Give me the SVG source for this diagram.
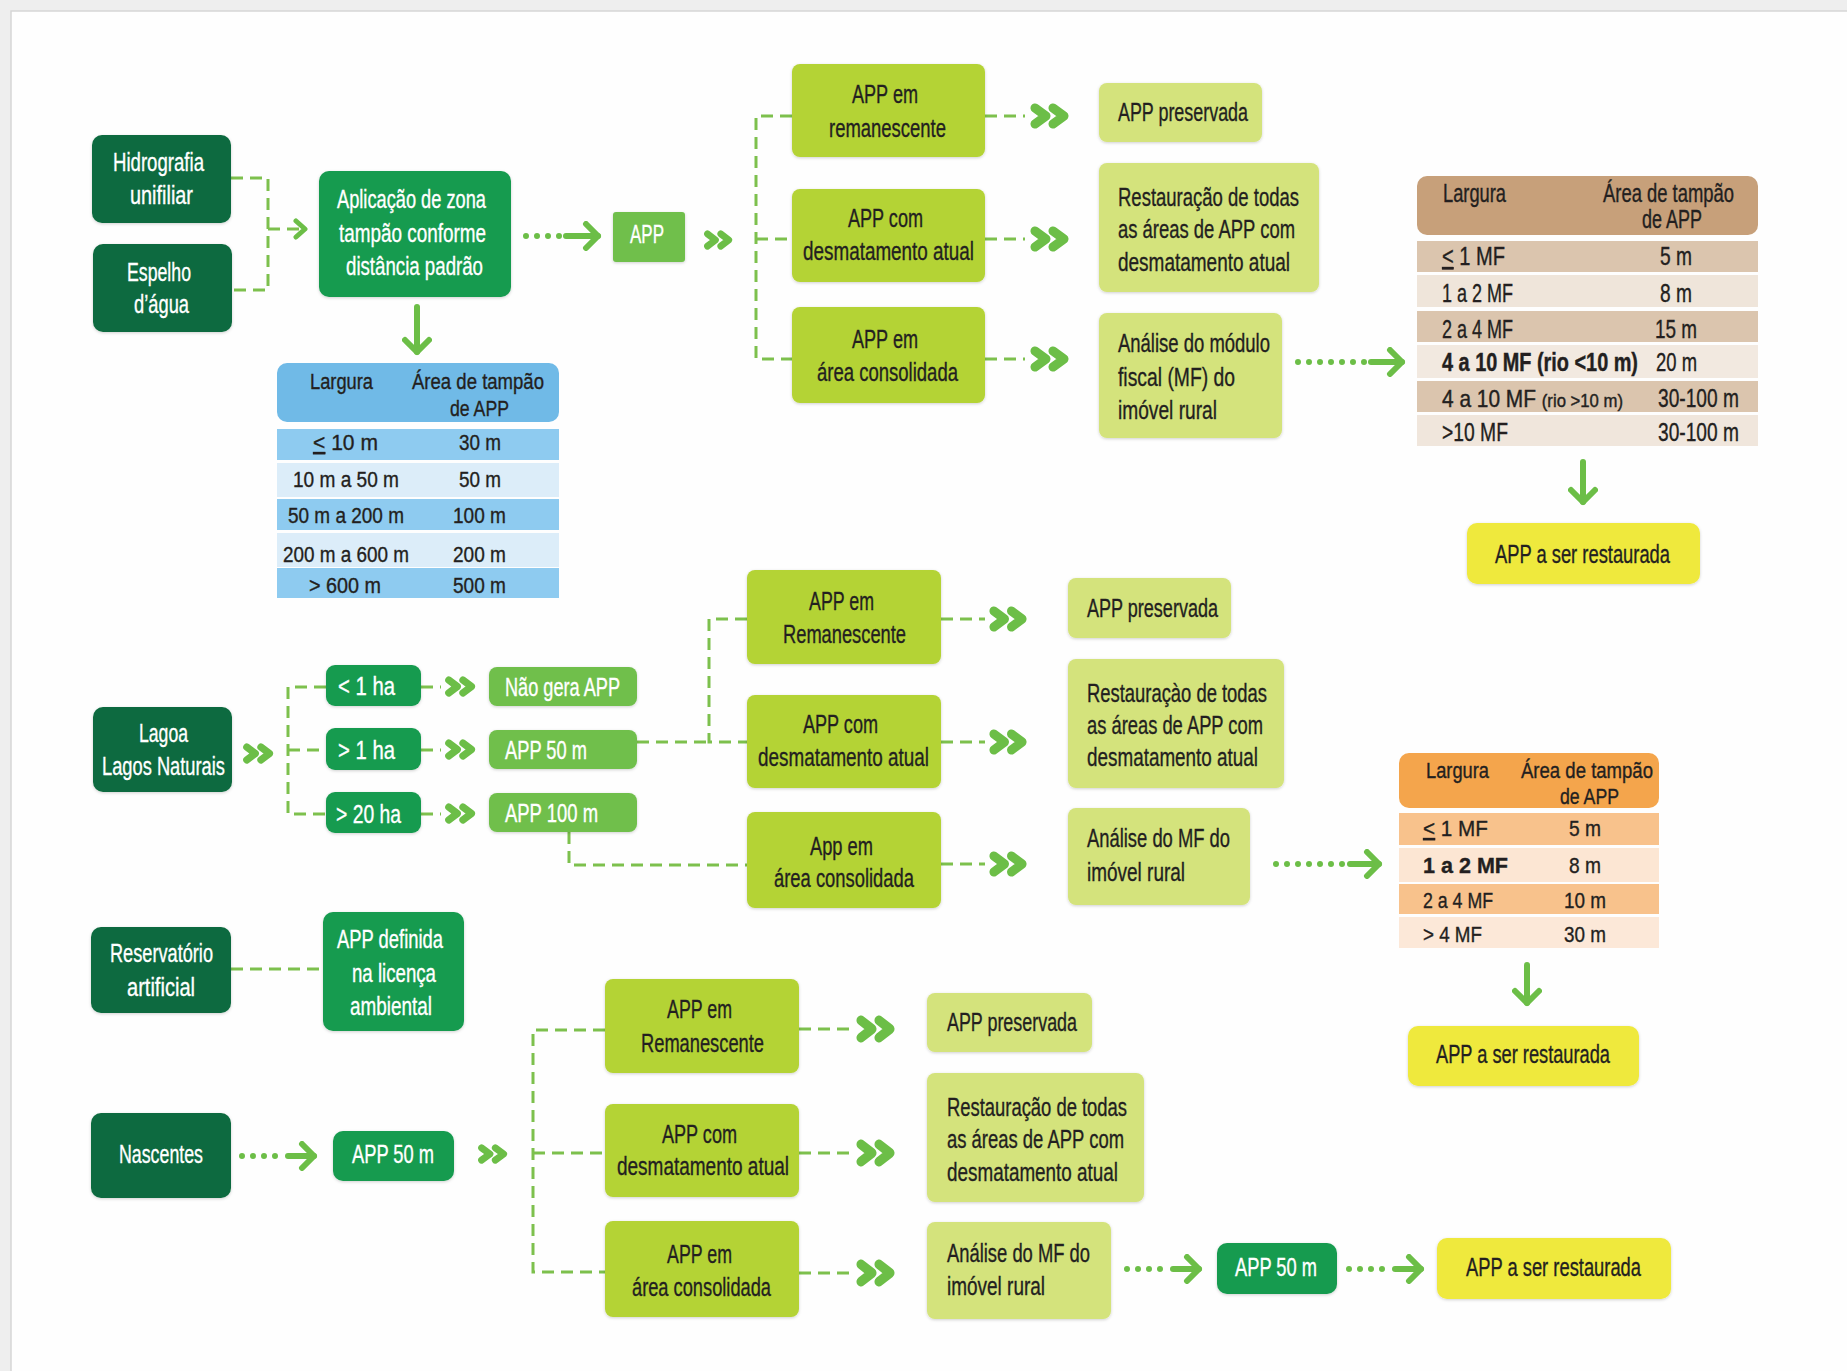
<svg xmlns="http://www.w3.org/2000/svg" xmlns:xlink="http://www.w3.org/1999/xlink" width="1847" height="1371" viewBox="0 0 1847 1371">
<style>
text{font-family:"Liberation Sans",Arial,sans-serif;font-size:26px;fill:#231f20;stroke:#231f20;stroke-width:0.35}
.w{fill:#fff;stroke:#fff}
.tb{font-size:25px}
.ts{font-size:22px}
.b{font-weight:bold}
.dk{fill:#0f6b3f}
.md{fill:#169b4f}
.lg{fill:#70bf4c}
.yg{fill:#b4d335}
.pg{fill:#d4e37b}
.yl{fill:#efe93c}
.dash{fill:none;stroke:#7dc04d;stroke-width:3;stroke-dasharray:12 7}
.dots{fill:none;stroke:#6cbe47;stroke-width:6;stroke-linecap:round;stroke-dasharray:0 11}
.shaft{fill:none;stroke:#6cbe47;stroke-width:6;stroke-linecap:round}
.box{filter:url(#sh)}
</style>
<defs>
<filter id="sh" x="-10%" y="-10%" width="120%" height="130%"><feDropShadow dx="0" dy="1" stdDeviation="1.5" flood-color="#000" flood-opacity="0.18"/></filter>
<symbol id="chev" viewBox="0 0 42 26" preserveAspectRatio="none"><path d="M6,5 L17,13 L6,21 M24,5 L35,13 L24,21" fill="none" stroke="#6cbe47" stroke-width="9" stroke-linecap="round" stroke-linejoin="round"/></symbol>
<marker id="ah" viewBox="0 0 22 30" refX="16" refY="15" markerWidth="22" markerHeight="30" markerUnits="userSpaceOnUse" orient="auto"><path d="M4,3 L16,15 L4,27" fill="none" stroke="#6cbe47" stroke-width="6" stroke-linecap="round" stroke-linejoin="round"/></marker>
<marker id="ahs" viewBox="0 0 16 22" refX="12" refY="11" markerWidth="16" markerHeight="22" markerUnits="userSpaceOnUse" orient="auto"><path d="M3,3 L12,11 L3,19" fill="none" stroke="#6cbe47" stroke-width="5" stroke-linecap="round" stroke-linejoin="round"/></marker>
</defs>
<rect x="0" y="0" width="1847" height="1371" fill="#eeeeee"/>
<rect x="11" y="11" width="1850" height="1370" fill="#fefefe" stroke="#d6d6d6" stroke-width="1.5"/>

<g id="connectors">
<path class="dash" d="M231,178 H268 V290 H231"/>
<path class="dash" d="M268,229 H305" marker-end="url(#ahs)"/>
<path class="dots" d="M526,236 H560"/><path class="shaft" d="M566,236 H598" marker-end="url(#ah)"/>
<path class="shaft" d="M417,307 V352" marker-end="url(#ah)"/>
<use href="#chev" x="703" y="230" width="31" height="20"/>
<path class="dash" d="M792,116 H756 V359 H792 M756,239 H792"/>
<path class="dash" d="M985,116 H1025 M985,239 H1025 M985,359 H1025"/>
<use href="#chev" x="1029" y="103" width="42" height="26"/>
<use href="#chev" x="1029" y="226" width="42" height="26"/>
<use href="#chev" x="1029" y="346" width="42" height="26"/>
<path class="dots" d="M1298,362 H1366"/><path class="shaft" d="M1371,362 H1402" marker-end="url(#ah)"/>
<path class="shaft" d="M1583,462 V502" marker-end="url(#ah)"/>

<use href="#chev" x="242" y="743" width="33" height="21"/>
<path class="dash" d="M326,687 H288 V814 H326 M288,750 H326"/>
<path class="dash" d="M421,687 H441 M421,750 H441 M421,814 H441"/>
<use href="#chev" x="444" y="676" width="33" height="21"/>
<use href="#chev" x="444" y="739" width="33" height="21"/>
<use href="#chev" x="444" y="803" width="33" height="21"/>
<path class="dash" d="M637,742 H709 M747,619 H709 V742 H747"/>
<path class="dash" d="M569,832 V865 H747"/>
<path class="dash" d="M941,619 H985 M941,742 H985 M941,864 H985"/>
<use href="#chev" x="988" y="606" width="41" height="26"/>
<use href="#chev" x="988" y="729" width="41" height="26"/>
<use href="#chev" x="988" y="851" width="41" height="26"/>
<path class="dots" d="M1276,864 H1344"/><path class="shaft" d="M1350,864 H1379" marker-end="url(#ah)"/>
<path class="shaft" d="M1527,965 V1003" marker-end="url(#ah)"/>

<path class="dash" d="M231,969 H320"/>

<path class="dots" d="M242,1156 H282"/><path class="shaft" d="M288,1156 H314" marker-end="url(#ah)"/>
<use href="#chev" x="477" y="1144" width="32" height="20"/>
<path class="dash" d="M605,1030 H533 V1272 H605 M533,1153 H605"/>
<path class="dash" d="M799,1029 H851 M799,1153 H851 M799,1273 H851"/>
<use href="#chev" x="855" y="1015" width="42" height="28"/>
<use href="#chev" x="855" y="1139" width="42" height="28"/>
<use href="#chev" x="855" y="1259" width="42" height="28"/>
<path class="dots" d="M1127,1269 H1167"/><path class="shaft" d="M1173,1269 H1199" marker-end="url(#ah)"/>
<path class="dots" d="M1349,1269 H1389"/><path class="shaft" d="M1395,1269 H1421" marker-end="url(#ah)"/>
</g>

<g id="hidrografia"><rect class="dk box" x="92" y="135" width="139" height="88" rx="10"/>
<text class="w" x="113" y="171" textLength="91" lengthAdjust="spacingAndGlyphs">Hidrografia</text>
<text class="w" x="130" y="204" textLength="63" lengthAdjust="spacingAndGlyphs">unifiliar</text></g>
<g id="espelho"><rect class="dk box" x="93" y="244" width="139" height="88" rx="10"/>
<text class="w" x="127" y="281" textLength="64" lengthAdjust="spacingAndGlyphs">Espelho</text>
<text class="w" x="134" y="313" textLength="55" lengthAdjust="spacingAndGlyphs">d’água</text></g>
<g id="aplicacao"><rect class="md box" x="319" y="171" width="192" height="126" rx="10"/>
<text class="w" x="337" y="208" textLength="149" lengthAdjust="spacingAndGlyphs">Aplicação de zona</text>
<text class="w" x="339" y="242" textLength="147" lengthAdjust="spacingAndGlyphs">tampão conforme</text>
<text class="w" x="346" y="275" textLength="137" lengthAdjust="spacingAndGlyphs">distância padrão</text></g>
<g id="app"><rect class="lg box" x="613" y="212" width="72" height="50" rx="3"/>
<text class="w" x="630" y="243" textLength="34" lengthAdjust="spacingAndGlyphs">APP</text></g>

<g id="top-remanescente"><rect class="yg box" x="792" y="64" width="193" height="93" rx="8"/>
<text x="852" y="103" textLength="66" lengthAdjust="spacingAndGlyphs">APP em</text>
<text x="829" y="137" textLength="117" lengthAdjust="spacingAndGlyphs">remanescente</text></g>
<g id="top-desmatamento"><rect class="yg box" x="792" y="189" width="193" height="93" rx="8"/>
<text x="848" y="227" textLength="75" lengthAdjust="spacingAndGlyphs">APP com</text>
<text x="803" y="260" textLength="171" lengthAdjust="spacingAndGlyphs">desmatamento atual</text></g>
<g id="top-consolidada"><rect class="yg box" x="792" y="307" width="193" height="96" rx="8"/>
<text x="852" y="348" textLength="66" lengthAdjust="spacingAndGlyphs">APP em</text>
<text x="817" y="381" textLength="141" lengthAdjust="spacingAndGlyphs">área consolidada</text></g>
<g id="top-preservada"><rect class="pg box" x="1099" y="83" width="163" height="59" rx="8"/>
<text x="1118" y="121" textLength="130" lengthAdjust="spacingAndGlyphs">APP preservada</text></g>
<g id="top-restauracao"><rect class="pg box" x="1099" y="163" width="220" height="129" rx="8"/>
<text x="1118" y="206" textLength="181" lengthAdjust="spacingAndGlyphs">Restauração de todas</text>
<text x="1118" y="238" textLength="177" lengthAdjust="spacingAndGlyphs">as áreas de APP com</text>
<text x="1118" y="271" textLength="172" lengthAdjust="spacingAndGlyphs">desmatamento atual</text></g>
<g id="top-analise"><rect class="pg box" x="1099" y="313" width="183" height="125" rx="8"/>
<text x="1118" y="352" textLength="152" lengthAdjust="spacingAndGlyphs">Análise do módulo</text>
<text x="1118" y="386" textLength="117" lengthAdjust="spacingAndGlyphs">fiscal (MF) do</text>
<text x="1118" y="419" textLength="99" lengthAdjust="spacingAndGlyphs">imóvel rural</text></g>

<g id="tabela-mf-rio">
<rect x="1417" y="176" width="341" height="59" rx="10" fill="#c7a07a"/>
<rect x="1417" y="241" width="341" height="31" fill="#dbc5ae"/>
<rect x="1417" y="275" width="341" height="32" fill="#efe5da"/>
<rect x="1417" y="311" width="341" height="31" fill="#dbc5ae"/>
<rect x="1417" y="345" width="341" height="33" fill="#f2e9e0"/>
<rect x="1417" y="381" width="341" height="31" fill="#dbc5ae"/>
<rect x="1417" y="415" width="341" height="31" fill="#f0e6dc"/>
<text class="tb" x="1443" y="202" textLength="63" lengthAdjust="spacingAndGlyphs">Largura</text>
<text class="tb" x="1603" y="202" textLength="131" lengthAdjust="spacingAndGlyphs">Área de tampão</text>
<text class="tb" x="1642" y="228" textLength="60" lengthAdjust="spacingAndGlyphs">de APP</text>
<text class="tb" x="1442" y="265" textLength="63" lengthAdjust="spacingAndGlyphs"><tspan style="text-decoration:underline">&lt;</tspan> 1 MF</text>
<text class="tb" x="1660" y="265" textLength="32" lengthAdjust="spacingAndGlyphs">5 m</text>
<text class="tb" x="1442" y="302" textLength="71" lengthAdjust="spacingAndGlyphs">1 a 2 MF</text>
<text class="tb" x="1660" y="302" textLength="32" lengthAdjust="spacingAndGlyphs">8 m</text>
<text class="tb" x="1442" y="338" textLength="71" lengthAdjust="spacingAndGlyphs">2 a 4 MF</text>
<text class="tb" x="1655" y="338" textLength="42" lengthAdjust="spacingAndGlyphs">15 m</text>
<text class="b" style="font-size:21px" transform="translate(1442 371) scale(1 1.19)" x="0" y="0" textLength="196" lengthAdjust="spacingAndGlyphs">4 a 10 MF (rio &lt;10 m)</text>
<text class="tb" x="1656" y="371" textLength="41" lengthAdjust="spacingAndGlyphs">20 m</text>
<text style="font-size:20px" transform="translate(1442 407) scale(1 1.2)" x="0" y="0" textLength="181" lengthAdjust="spacingAndGlyphs">4 a 10 MF <tspan style="font-size:16px">(rio &gt;10 m)</tspan></text>
<text class="tb" x="1658" y="407" textLength="81" lengthAdjust="spacingAndGlyphs">30-100 m</text>
<text class="tb" x="1442" y="441" textLength="66" lengthAdjust="spacingAndGlyphs">&gt;10 MF</text>
<text class="tb" x="1658" y="441" textLength="81" lengthAdjust="spacingAndGlyphs">30-100 m</text>
</g>
<g id="top-restaurada"><rect class="yl box" x="1467" y="523" width="233" height="61" rx="10"/>
<text x="1495" y="563" textLength="175" lengthAdjust="spacingAndGlyphs">APP a ser restaurada</text></g>

<g id="tabela-largura">
<rect x="277" y="363" width="282" height="59" rx="10" fill="#70bae7"/>
<rect x="277" y="429" width="282" height="31" fill="#8ecbf0"/>
<rect x="277" y="463" width="282" height="34" fill="#dcedf9"/>
<rect x="277" y="499" width="282" height="31" fill="#8ecbf0"/>
<rect x="277" y="533" width="282" height="34" fill="#dcedf9"/>
<rect x="277" y="568" width="282" height="30" fill="#8ecbf0"/>
<text class="ts" x="310" y="389" textLength="63" lengthAdjust="spacingAndGlyphs">Largura</text>
<text class="ts" x="412" y="389" textLength="132" lengthAdjust="spacingAndGlyphs">Área de tampão</text>
<text class="ts" x="450" y="416" textLength="59" lengthAdjust="spacingAndGlyphs">de APP</text>
<text class="ts" x="313" y="450" textLength="65" lengthAdjust="spacingAndGlyphs"><tspan style="text-decoration:underline">&lt;</tspan> 10 m</text>
<text class="ts" x="459" y="450" textLength="42" lengthAdjust="spacingAndGlyphs">30 m</text>
<text class="ts" x="293" y="487" textLength="106" lengthAdjust="spacingAndGlyphs">10 m a 50 m</text>
<text class="ts" x="459" y="487" textLength="42" lengthAdjust="spacingAndGlyphs">50 m</text>
<text class="ts" x="288" y="523" textLength="116" lengthAdjust="spacingAndGlyphs">50 m a 200 m</text>
<text class="ts" x="453" y="523" textLength="53" lengthAdjust="spacingAndGlyphs">100 m</text>
<text class="ts" x="283" y="562" textLength="126" lengthAdjust="spacingAndGlyphs">200 m a 600 m</text>
<text class="ts" x="453" y="562" textLength="53" lengthAdjust="spacingAndGlyphs">200 m</text>
<text class="ts" x="309" y="593" textLength="72" lengthAdjust="spacingAndGlyphs">&gt; 600 m</text>
<text class="ts" x="453" y="593" textLength="53" lengthAdjust="spacingAndGlyphs">500 m</text>
</g>

<g id="lagoa"><rect class="dk box" x="93" y="707" width="139" height="85" rx="10"/>
<text class="w" x="139" y="742" textLength="49" lengthAdjust="spacingAndGlyphs">Lagoa</text>
<text class="w" x="102" y="775" textLength="123" lengthAdjust="spacingAndGlyphs">Lagos Naturais</text></g>
<g id="menor-1ha"><rect class="md box" x="326" y="665" width="95" height="41" rx="9"/>
<text class="w" x="338" y="695" textLength="57" lengthAdjust="spacingAndGlyphs">&lt; 1 ha</text></g>
<g id="maior-1ha"><rect class="md box" x="326" y="728" width="95" height="42" rx="9"/>
<text class="w" x="338" y="759" textLength="57" lengthAdjust="spacingAndGlyphs">&gt; 1 ha</text></g>
<g id="maior-20ha"><rect class="md box" x="326" y="792" width="95" height="41" rx="9"/>
<text class="w" x="336" y="823" textLength="65" lengthAdjust="spacingAndGlyphs">&gt; 20 ha</text></g>
<g id="nao-gera"><rect class="lg box" x="489" y="667" width="148" height="39" rx="8"/>
<text class="w" x="505" y="696" textLength="115" lengthAdjust="spacingAndGlyphs">Não gera APP</text></g>
<g id="app-50-lagoa"><rect class="lg box" x="489" y="730" width="148" height="39" rx="8"/>
<text class="w" x="505" y="759" textLength="82" lengthAdjust="spacingAndGlyphs">APP 50 m</text></g>
<g id="app-100"><rect class="lg box" x="489" y="793" width="148" height="39" rx="8"/>
<text class="w" x="505" y="822" textLength="93" lengthAdjust="spacingAndGlyphs">APP 100 m</text></g>

<g id="mid-remanescente"><rect class="yg box" x="747" y="570" width="194" height="94" rx="8"/>
<text x="809" y="610" textLength="65" lengthAdjust="spacingAndGlyphs">APP em</text>
<text x="783" y="643" textLength="123" lengthAdjust="spacingAndGlyphs">Remanescente</text></g>
<g id="mid-desmatamento"><rect class="yg box" x="747" y="695" width="194" height="93" rx="8"/>
<text x="803" y="733" textLength="75" lengthAdjust="spacingAndGlyphs">APP com</text>
<text x="758" y="766" textLength="171" lengthAdjust="spacingAndGlyphs">desmatamento atual</text></g>
<g id="mid-consolidada"><rect class="yg box" x="747" y="812" width="194" height="96" rx="8"/>
<text x="810" y="855" textLength="63" lengthAdjust="spacingAndGlyphs">App em</text>
<text x="774" y="887" textLength="140" lengthAdjust="spacingAndGlyphs">área consolidada</text></g>
<g id="mid-preservada"><rect class="pg box" x="1068" y="578" width="163" height="60" rx="8"/>
<text x="1087" y="617" textLength="131" lengthAdjust="spacingAndGlyphs">APP preservada</text></g>
<g id="mid-restauracao"><rect class="pg box" x="1068" y="659" width="216" height="129" rx="8"/>
<text x="1087" y="702" textLength="180" lengthAdjust="spacingAndGlyphs">Restauraçào de todas</text>
<text x="1087" y="734" textLength="176" lengthAdjust="spacingAndGlyphs">as áreas de APP com</text>
<text x="1087" y="766" textLength="171" lengthAdjust="spacingAndGlyphs">desmatamento atual</text></g>
<g id="mid-analise"><rect class="pg box" x="1068" y="808" width="182" height="97" rx="8"/>
<text x="1087" y="847" textLength="143" lengthAdjust="spacingAndGlyphs">Análise do MF do</text>
<text x="1087" y="881" textLength="98" lengthAdjust="spacingAndGlyphs">imóvel rural</text></g>

<g id="tabela-mf-lagoa">
<rect x="1399" y="753" width="260" height="55" rx="10" fill="#f4a54c"/>
<rect x="1399" y="813" width="260" height="32" fill="#f8c28c"/>
<rect x="1399" y="848" width="260" height="34" fill="#fce6d3"/>
<rect x="1399" y="884" width="260" height="30" fill="#f8c28c"/>
<rect x="1399" y="917" width="260" height="31" fill="#fce8d8"/>
<text class="ts" x="1426" y="778" textLength="63" lengthAdjust="spacingAndGlyphs">Largura</text>
<text class="ts" x="1521" y="778" textLength="132" lengthAdjust="spacingAndGlyphs">Área de tampão</text>
<text class="ts" x="1560" y="804" textLength="59" lengthAdjust="spacingAndGlyphs">de APP</text>
<text class="ts" x="1423" y="836" textLength="65" lengthAdjust="spacingAndGlyphs"><tspan style="text-decoration:underline">&lt;</tspan> 1 MF</text>
<text class="ts" x="1569" y="836" textLength="32" lengthAdjust="spacingAndGlyphs">5 m</text>
<text class="ts b" x="1423" y="873" textLength="85" lengthAdjust="spacingAndGlyphs">1 a 2 MF</text>
<text class="ts" x="1569" y="873" textLength="32" lengthAdjust="spacingAndGlyphs">8 m</text>
<text class="ts" x="1423" y="908" textLength="70" lengthAdjust="spacingAndGlyphs">2 a 4 MF</text>
<text class="ts" x="1564" y="908" textLength="42" lengthAdjust="spacingAndGlyphs">10 m</text>
<text class="ts" x="1423" y="942" textLength="59" lengthAdjust="spacingAndGlyphs">&gt; 4 MF</text>
<text class="ts" x="1564" y="942" textLength="42" lengthAdjust="spacingAndGlyphs">30 m</text>
</g>
<g id="mid-restaurada"><rect class="yl box" x="1408" y="1026" width="231" height="60" rx="10"/>
<text x="1436" y="1063" textLength="174" lengthAdjust="spacingAndGlyphs">APP a ser restaurada</text></g>

<g id="reservatorio"><rect class="dk box" x="91" y="927" width="140" height="86" rx="10"/>
<text class="w" x="110" y="962" textLength="103" lengthAdjust="spacingAndGlyphs">Reservatório</text>
<text class="w" x="127" y="996" textLength="68" lengthAdjust="spacingAndGlyphs">artificial</text></g>
<g id="app-definida"><rect class="md box" x="323" y="912" width="141" height="119" rx="10"/>
<text class="w" x="337" y="948" textLength="106" lengthAdjust="spacingAndGlyphs">APP definida</text>
<text class="w" x="352" y="982" textLength="84" lengthAdjust="spacingAndGlyphs">na licença</text>
<text class="w" x="350" y="1015" textLength="82" lengthAdjust="spacingAndGlyphs">ambiental</text></g>

<g id="nascentes"><rect class="dk box" x="91" y="1113" width="140" height="85" rx="10"/>
<text class="w" x="119" y="1163" textLength="84" lengthAdjust="spacingAndGlyphs">Nascentes</text></g>
<g id="app-50-nascentes"><rect class="md box" x="333" y="1131" width="121" height="50" rx="10"/>
<text class="w" x="352" y="1163" textLength="82" lengthAdjust="spacingAndGlyphs">APP 50 m</text></g>
<g id="bot-remanescente"><rect class="yg box" x="605" y="979" width="194" height="94" rx="8"/>
<text x="667" y="1018" textLength="65" lengthAdjust="spacingAndGlyphs">APP em</text>
<text x="641" y="1052" textLength="123" lengthAdjust="spacingAndGlyphs">Remanescente</text></g>
<g id="bot-desmatamento"><rect class="yg box" x="605" y="1104" width="194" height="93" rx="8"/>
<text x="662" y="1143" textLength="75" lengthAdjust="spacingAndGlyphs">APP com</text>
<text x="617" y="1175" textLength="172" lengthAdjust="spacingAndGlyphs">desmatamento atual</text></g>
<g id="bot-consolidada"><rect class="yg box" x="605" y="1221" width="194" height="96" rx="8"/>
<text x="667" y="1263" textLength="65" lengthAdjust="spacingAndGlyphs">APP em</text>
<text x="632" y="1296" textLength="139" lengthAdjust="spacingAndGlyphs">área consolidada</text></g>
<g id="bot-preservada"><rect class="pg box" x="927" y="993" width="165" height="59" rx="8"/>
<text x="947" y="1031" textLength="130" lengthAdjust="spacingAndGlyphs">APP preservada</text></g>
<g id="bot-restauracao"><rect class="pg box" x="927" y="1073" width="217" height="129" rx="8"/>
<text x="947" y="1116" textLength="180" lengthAdjust="spacingAndGlyphs">Restauração de todas</text>
<text x="947" y="1148" textLength="177" lengthAdjust="spacingAndGlyphs">as áreas de APP com</text>
<text x="947" y="1181" textLength="171" lengthAdjust="spacingAndGlyphs">desmatamento atual</text></g>
<g id="bot-analise"><rect class="pg box" x="927" y="1222" width="184" height="97" rx="8"/>
<text x="947" y="1262" textLength="143" lengthAdjust="spacingAndGlyphs">Análise do MF do</text>
<text x="947" y="1295" textLength="98" lengthAdjust="spacingAndGlyphs">imóvel rural</text></g>
<g id="bot-app-50"><rect class="md box" x="1217" y="1243" width="120" height="51" rx="10"/>
<text class="w" x="1235" y="1276" textLength="82" lengthAdjust="spacingAndGlyphs">APP 50 m</text></g>
<g id="bot-restaurada"><rect class="yl box" x="1437" y="1238" width="234" height="61" rx="10"/>
<text x="1466" y="1276" textLength="175" lengthAdjust="spacingAndGlyphs">APP a ser restaurada</text></g>
</svg>
